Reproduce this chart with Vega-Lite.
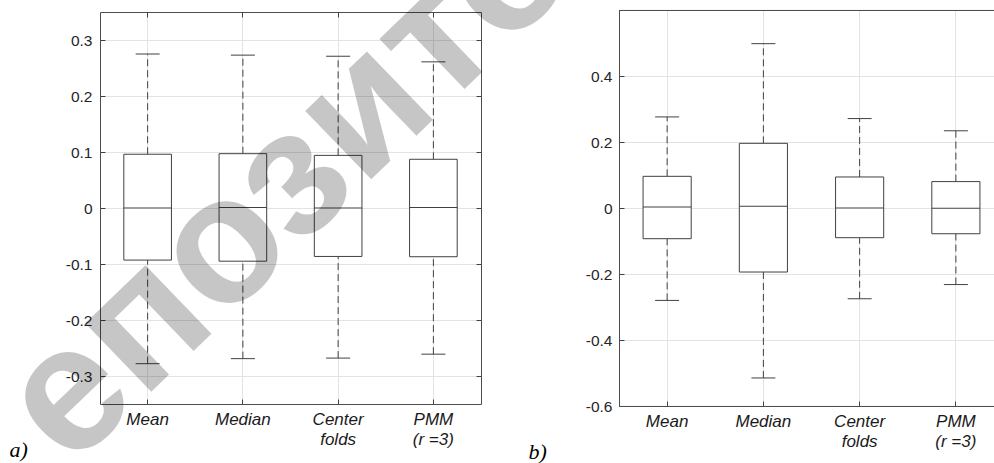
{
  "$schema": "https://vega.github.io/schema/vega-lite/v6.json",
  "background": "white",
  "autosize": {"type": "none"},
  "padding": {"left": 100, "top": 10, "right": 894, "bottom": 453},
  "config": {
    "font": "Liberation Sans",
    "view": {"stroke": "transparent"},
    "tick": {"opacity": 1}
  },
  "datasets": {
    "a": [
      {"method": "Mean", "lower": -0.278, "q1": -0.093, "median": 0.0, "q3": 0.096, "upper": 0.275},
      {"method": "Median", "lower": -0.269, "q1": -0.095, "median": 0.001, "q3": 0.097, "upper": 0.273},
      {"method": "Center folds", "lower": -0.268, "q1": -0.0865, "median": 0.0, "q3": 0.094, "upper": 0.271},
      {"method": "PMM (r =3)", "lower": -0.261, "q1": -0.087, "median": 0.001, "q3": 0.087, "upper": 0.261}
    ],
    "b": [
      {"method": "Mean", "lower": -0.28, "q1": -0.093, "median": 0.003, "q3": 0.096, "upper": 0.276},
      {"method": "Median", "lower": -0.515, "q1": -0.194, "median": 0.005, "q3": 0.196, "upper": 0.498},
      {"method": "Center folds", "lower": -0.275, "q1": -0.09, "median": 0.0, "q3": 0.094, "upper": 0.271},
      {"method": "PMM (r =3)", "lower": -0.232, "q1": -0.078, "median": -0.001, "q3": 0.08, "upper": 0.234}
    ],
    "wm": [{"text": "епозито"}]
  },
  "hconcat": [
    {
      "data": {"name": "a"},
      "width": 381,
      "height": 392,
      "resolve": {"axis": {"x": "independent", "y": "independent"}},
      "layer": [
        {
          "mark": {"type": "rule", "color": "#404040", "strokeWidth": 1, "strokeDash": [7, 4]},
          "encoding": {
            "x": {"field": "method", "type": "nominal",
                  "scale": {"type": "band", "domain": ["Mean", "Median", "Center folds", "PMM (r =3)"], "paddingInner": 0, "paddingOuter": 0},
                  "axis": {"orient": "bottom", "domain": true, "domainColor": "#4d4d4d", "grid": true, "gridColor": "#e3e3e3",
                           "ticks": true, "tickSize": -5, "tickColor": "#404040", "labelAngle": 0,
                           "labelFont": "Liberation Sans", "labelFontStyle": "italic", "labelFontSize": 17, "labelColor": "#1a1a1a",
                           "labelPadding": 12, "labelLineHeight": 20,
                           "labelExpr": "datum.value == 'Center folds' ? ['Center', 'folds'] : datum.value == 'PMM (r =3)' ? ['PMM', '(r =3)'] : datum.value",
                           "title": "a)", "titleFont": "Liberation Serif", "titleFontStyle": "italic", "titleFontWeight": "normal", "titleFontSize": 22, "titleColor": "black",
                           "titleX": -91, "titleY": 52, "titleAlign": "left", "titleBaseline": "alphabetic", "titleAngle": 0}},
            "y": {"field": "q3", "type": "quantitative", "scale": {"domain": [-0.35, 0.35], "nice": false, "zero": false},
                  "axis": {"orient": "left", "title": null, "domain": true, "domainColor": "#4d4d4d", "grid": true, "gridColor": "#e3e3e3",
                           "values": [-0.3, -0.2, -0.1, 0, 0.1, 0.2, 0.3], "tickSize": -5, "tickColor": "#404040",
                           "labelFont": "Liberation Sans", "labelFontSize": 15.5, "labelColor": "#262626", "labelPadding": 13,
                           "labelExpr": "datum.value < 0 ? '-' + format(-datum.value, '.1~f') : format(datum.value, '.1~f')"}},
            "y2": {"field": "upper"}
          }
        },
        {
          "mark": {"type": "rule", "color": "#404040", "strokeWidth": 1, "strokeDash": [7, 4]},
          "encoding": {
            "x": {"field": "method", "type": "nominal", "scale": {"type": "band", "domain": ["Mean", "Median", "Center folds", "PMM (r =3)"], "paddingInner": 0, "paddingOuter": 0}, "axis": null},
            "y": {"field": "lower", "type": "quantitative", "scale": {"domain": [-0.35, 0.35], "nice": false, "zero": false}, "axis": null},
            "y2": {"field": "q1"}
          }
        },
        {
          "mark": {"type": "bar", "fill": "white", "stroke": "#404040", "strokeWidth": 1, "width": {"band": 0.5}},
          "encoding": {
            "x": {"field": "method", "type": "nominal", "scale": {"type": "band", "domain": ["Mean", "Median", "Center folds", "PMM (r =3)"], "paddingInner": 0, "paddingOuter": 0}, "axis": null},
            "y": {"field": "q1", "type": "quantitative", "scale": {"domain": [-0.35, 0.35], "nice": false, "zero": false}, "axis": null},
            "y2": {"field": "q3"}
          }
        },
        {
          "mark": {"type": "tick", "color": "#404040", "size": 48, "thickness": 1},
          "encoding": {
            "x": {"field": "method", "type": "nominal", "scale": {"type": "band", "domain": ["Mean", "Median", "Center folds", "PMM (r =3)"], "paddingInner": 0, "paddingOuter": 0},
                  "axis": {"orient": "top", "title": null, "labels": false, "domain": true, "domainColor": "#4d4d4d", "grid": false, "tickSize": -5, "tickColor": "#404040"}},
            "y": {"field": "median", "type": "quantitative", "scale": {"domain": [-0.35, 0.35], "nice": false, "zero": false},
                  "axis": {"orient": "right", "title": null, "labels": false, "domain": true, "domainColor": "#4d4d4d", "grid": false, "values": [-0.3, -0.2, -0.1, 0, 0.1, 0.2, 0.3], "tickSize": -5, "tickColor": "#404040"}}
          }
        },
        {
          "mark": {"type": "tick", "color": "#404040", "size": 24, "thickness": 1},
          "encoding": {
            "x": {"field": "method", "type": "nominal", "scale": {"type": "band", "domain": ["Mean", "Median", "Center folds", "PMM (r =3)"], "paddingInner": 0, "paddingOuter": 0}, "axis": null},
            "y": {"field": "upper", "type": "quantitative", "scale": {"domain": [-0.35, 0.35], "nice": false, "zero": false}, "axis": null}
          }
        },
        {
          "mark": {"type": "tick", "color": "#404040", "size": 24, "thickness": 1},
          "encoding": {
            "x": {"field": "method", "type": "nominal", "scale": {"type": "band", "domain": ["Mean", "Median", "Center folds", "PMM (r =3)"], "paddingInner": 0, "paddingOuter": 0}, "axis": null},
            "y": {"field": "lower", "type": "quantitative", "scale": {"domain": [-0.35, 0.35], "nice": false, "zero": false}, "axis": null}
          }
        },
        {
          "data": {"name": "wm"},
          "mark": {"type": "text", "font": "Liberation Sans", "fontWeight": "bold", "fontSize": 180, "angle": -44, "align": "center", "baseline": "middle", "color": "black", "opacity": 0.22, "dx": 64},
          "encoding": {
            "text": {"field": "text"},
            "x": {"datum": "Median", "type": "nominal", "scale": {"type": "band", "domain": ["Mean", "Median", "Center folds", "PMM (r =3)"], "paddingInner": 0, "paddingOuter": 0}, "axis": null},
            "y": {"datum": -0.036, "type": "quantitative", "scale": {"domain": [-0.35, 0.35], "nice": false, "zero": false}, "axis": null}
          }
        }
      ]
    },
    {
      "data": {"name": "b"},
      "width": 380,
      "height": 396,
      "view": {"stroke": "transparent", "strokeWidth": 0},
      "layer": [
        {
          "mark": {"type": "rule", "color": "#404040", "strokeWidth": 1, "strokeDash": [7, 4]},
          "encoding": {
            "x": {"field": "method", "type": "nominal",
                  "scale": {"type": "band", "domain": ["Mean", "Median", "Center folds", "PMM (r =3)"], "paddingInner": 0, "paddingOuter": 0, "range": [0, 385]},
                  "axis": {"orient": "bottom", "domain": false, "grid": true, "gridColor": "#e3e3e3",
                           "ticks": true, "tickSize": -5, "tickColor": "#404040", "labelAngle": 0,
                           "labelFont": "Liberation Sans", "labelFontStyle": "italic", "labelFontSize": 17, "labelColor": "#1a1a1a",
                           "labelPadding": 12, "labelLineHeight": 20,
                           "labelExpr": "datum.value == 'Center folds' ? ['Center', 'folds'] : datum.value == 'PMM (r =3)' ? ['PMM', '(r =3)'] : datum.value",
                           "title": "b)", "titleFont": "Liberation Serif", "titleFontStyle": "italic", "titleFontWeight": "normal", "titleFontSize": 22, "titleColor": "black",
                           "titleX": -91, "titleY": 52, "titleAlign": "left", "titleBaseline": "alphabetic", "titleAngle": 0}},
            "y": {"field": "q3", "type": "quantitative", "scale": {"domain": [-0.6, 0.6], "nice": false, "zero": false},
                  "axis": {"orient": "left", "title": null, "domain": true, "domainColor": "#4d4d4d", "grid": true, "gridColor": "#e3e3e3",
                           "values": [-0.6, -0.4, -0.2, 0, 0.2, 0.4], "tickSize": -5, "tickColor": "#404040",
                           "labelFont": "Liberation Sans", "labelFontSize": 15.5, "labelColor": "#262626", "labelPadding": 12,
                           "labelExpr": "datum.value < 0 ? '-' + format(-datum.value, '.1~f') : format(datum.value, '.1~f')"}},
            "y2": {"field": "upper"}
          }
        },
        {
          "mark": {"type": "rule", "color": "#404040", "strokeWidth": 1, "strokeDash": [7, 4]},
          "encoding": {
            "x": {"field": "method", "type": "nominal"},
            "y": {"field": "lower", "type": "quantitative"},
            "y2": {"field": "q1"}
          }
        },
        {
          "mark": {"type": "bar", "fill": "white", "stroke": "#404040", "strokeWidth": 1, "width": {"band": 0.5}},
          "encoding": {
            "x": {"field": "method", "type": "nominal"},
            "y": {"field": "q1", "type": "quantitative"},
            "y2": {"field": "q3"}
          }
        },
        {
          "mark": {"type": "tick", "color": "#404040", "size": 48, "thickness": 1},
          "encoding": {
            "x": {"field": "method", "type": "nominal"},
            "y": {"field": "median", "type": "quantitative"}
          }
        },
        {
          "mark": {"type": "tick", "color": "#404040", "size": 24, "thickness": 1},
          "encoding": {
            "x": {"field": "method", "type": "nominal"},
            "y": {"field": "upper", "type": "quantitative"}
          }
        },
        {
          "mark": {"type": "tick", "color": "#404040", "size": 24, "thickness": 1},
          "encoding": {
            "x": {"field": "method", "type": "nominal"},
            "y": {"field": "lower", "type": "quantitative"}
          }
        },
        {
          "mark": {"type": "rule", "color": "#4d4d4d", "strokeWidth": 1},
          "encoding": {
            "y": {"datum": 0.5985, "type": "quantitative"}
          }
        },
        {
          "mark": {"type": "rule", "color": "#4d4d4d", "strokeWidth": 1},
          "encoding": {
            "y": {"datum": -0.6015, "type": "quantitative"}
          }
        }
      ]
    }
  ],
  "spacing": 138,
  "bounds": "flush",
  "center": true
}
